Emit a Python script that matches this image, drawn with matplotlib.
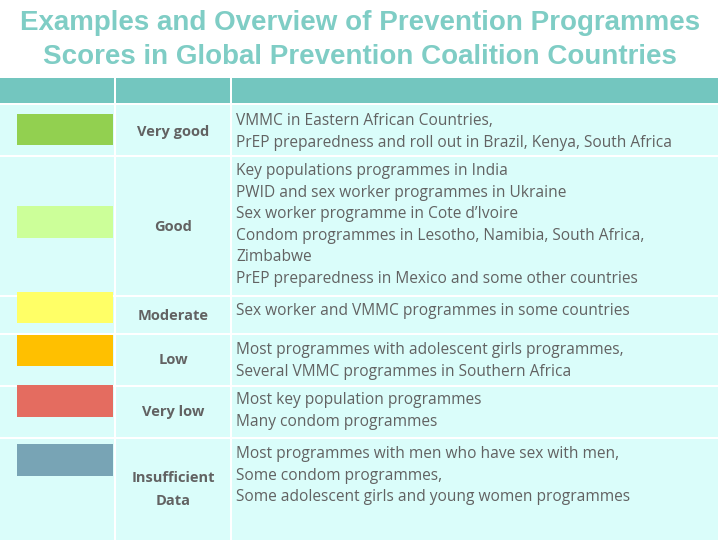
import matplotlib.pyplot as plt
from matplotlib.patches import Rectangle

# table content
ratings = ["Very good", "Good", "Moderate", "Low", "Very low", "Insufficient\nData"]
swatch_colors = ["#92d050", "#ccff99", "#ffff66", "#ffc000", "#e46c60", "#78a4b5"]
examples = [
    ["VMMC in Eastern African Countries,",
     "PrEP preparedness and roll out in Brazil, Kenya, South Africa"],
    ["Key populations programmes in India",
     "PWID and sex worker programmes in Ukraine",
     "Sex worker programme in Cote d\u2019Ivoire",
     "Condom programmes in Lesotho, Namibia, South Africa,",
     "Zimbabwe",
     "PrEP preparedness in Mexico and some other countries"],
    ["Sex worker and VMMC programmes in some countries"],
    ["Most programmes with adolescent girls programmes,",
     "Several VMMC programmes in Southern Africa"],
    ["Most key population programmes",
     "Many condom programmes"],
    ["Most programmes with men who have sex with men,",
     "Some condom programmes,",
     "Some adolescent girls and young women programmes"],
]
title = "Examples and Overview of Prevention Programmes\nScores in Global Prevention Coalition Countries"

# layout in pixels (y grows downward)
row_edges = [(105, 155), (157, 295), (297, 333), (335, 385), (387, 437), (439, 540)]
swatch_y = [(114, 145), (206, 238), (292, 323), (335, 366), (385, 417), (444, 476)]
label_y = [132, 227, 316, 360, 412, 489.5]
text_top = [121, 171, 311, 350, 400, 454]
cols = [(0, 114), (116, 230), (232, 718)]
header = "#73c6bf"
cell_bg = "#dafdfa"
grey = "#626262"

fig = plt.figure(figsize=(7.2, 5.4), dpi=100)
ax = fig.add_axes([0, 0, 1, 1])
ax.set_xlim(0, 720)
ax.set_ylim(540, 0)
ax.axis("off")

fig.text(0.5, 1 - 40 / 540, title, ha="center", va="center", color="#7fcdc5",
         fontsize=20, fontweight="bold", family="Liberation Sans", linespacing=1.45)

for x0, x1 in cols:
    ax.add_patch(Rectangle((x0, 78), x1 - x0, 25, color=header, lw=0))
    for y0, y1 in row_edges:
        ax.add_patch(Rectangle((x0, y0), x1 - x0, y1 - y0, color=cell_bg, lw=0))

for i, rating in enumerate(ratings):
    sy0, sy1 = swatch_y[i]
    ax.add_patch(Rectangle((17, sy0), 96, sy1 - sy0, color=swatch_colors[i], lw=0))
    ax.text(173, label_y[i], rating, ha="center", va="center", color=grey,
            fontsize=10.5, fontweight="bold", family="Open Sans", linespacing=1.8)
    for j, line in enumerate(examples[i]):
        ax.text(236, text_top[i] + 21.6 * j, line, ha="left", va="center",
                color=grey, fontsize=11.2, family="Open Sans")

fig.savefig("out.png", dpi=100, facecolor="white")
